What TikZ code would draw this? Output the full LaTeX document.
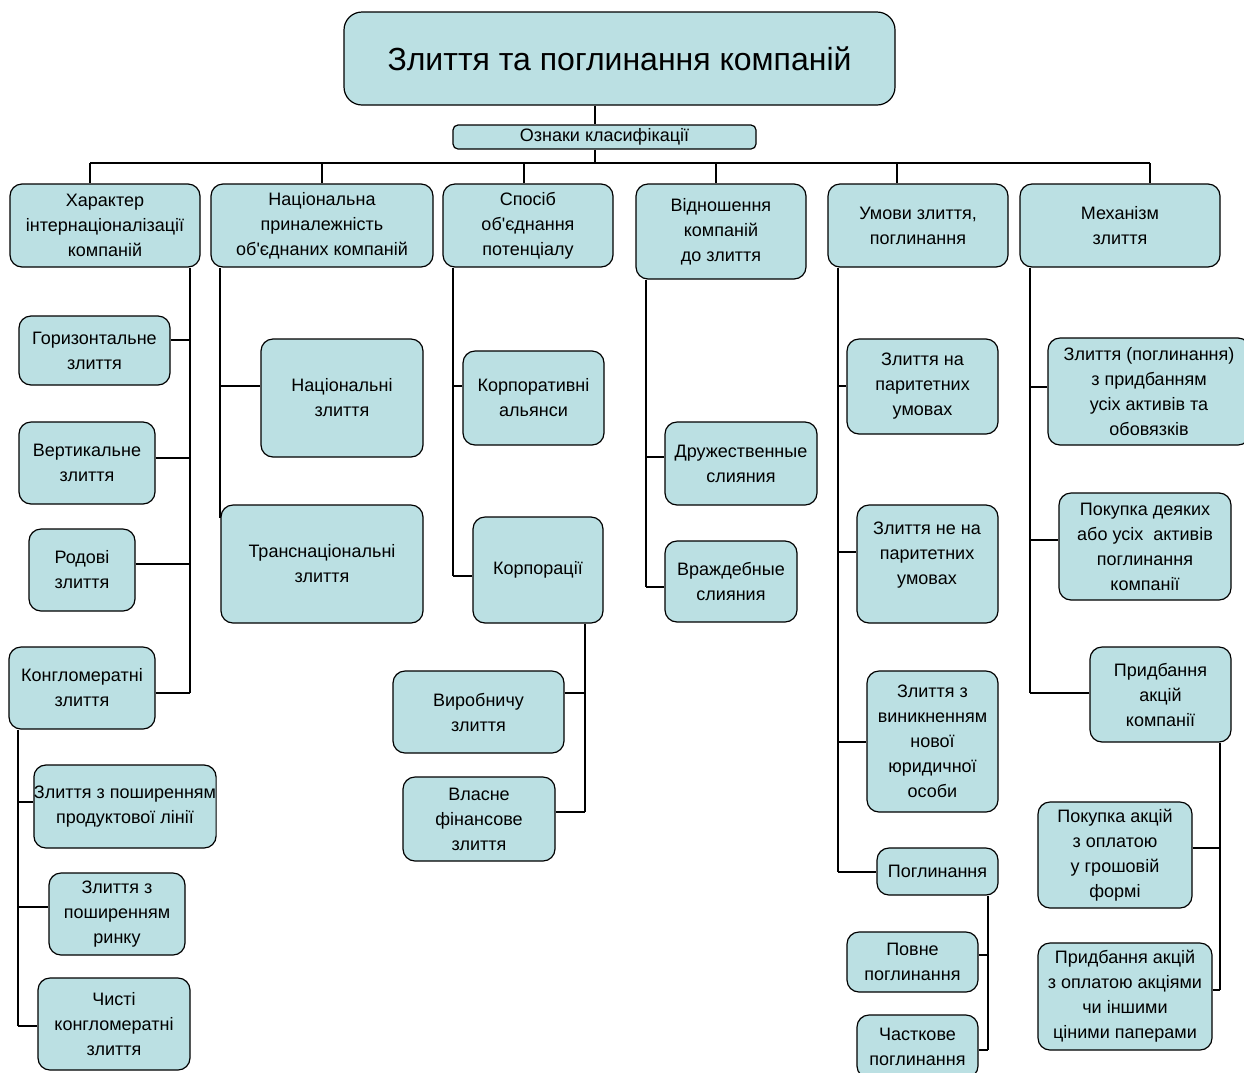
\documentclass[tikz,border=0pt]{standalone}
\usepackage{fontspec}
\setmainfont{Liberation Sans}[Ligatures=TeXOff]
\definecolor{boxfill}{RGB}{187,224,227}
\tikzset{
  boxtext/.style={align=center, font=\fontsize{18}{25}\selectfont},
  box/.style={boxtext, draw=black, fill=boxfill, rounded corners=12pt, line width=1.2pt,
    inner sep=0pt},
  link/.style={draw=black, line width=1.2pt},
}
% \rbox[options]{name}{x1}{y1}{x2}{y2}{text}: rounded box given by its corners
\newcommand\rbox[6][]{\node[box,minimum width={(#5-#3)*1pt},minimum height={(#6-#4)*1pt},#1] (#2) at ({(#3+#5)/2},{(#4+#6)/2})}
\begin{document}
\begin{tikzpicture}[x=1pt,y=-1pt]
\useasboundingbox (0,0) rectangle (1244,1072);
\fill[white] (0,0) rectangle (1244,1072);

% root and classification bar
\rbox[rounded corners=18pt,font=\fontsize{32}{38}\selectfont]{root}{344}{12}{895}{105}{Злиття та поглинання компаній};
\rbox[rounded corners=5pt]{sign}{453}{125}{756}{149}{Ознаки класифікації};

% classification categories
\rbox{b1}{10}{184}{200}{267}{Характер\\інтернаціоналізації\\компаній};
\rbox{b2}{211}{184}{433}{267}{Національна\\приналежність\\об'єднаних компаній};
\rbox{b3}{443}{184}{613}{267}{Спосіб\\об'єднання\\потенціалу};
\rbox{b4}{636}{184}{806}{279}{Відношення\\компаній\\до злиття};
\rbox{b5}{828}{184}{1008}{267}{Умови злиття,\\поглинання};
\rbox{b6}{1020}{184}{1220}{267}{Механізм\\злиття};

% bar and drops
\coordinate (barL) at (90,163);
\coordinate (barR) at (1150,163);
\draw[link] (root.south -| 595,0) -- (sign.north -| 595,0);
\draw[link] (sign.south -| 595,0) -- (595,163);
\draw[link] (barL) -- (barR);
\draw[link] (barL) -- (b1.north -| barL);
\draw[link] (322,163) -- (b2.north -| 322,0);
\draw[link] (524,163) -- (b3.north -| 524,0);
\draw[link] (716,163) -- (b4.north -| 716,0);
\draw[link] (897,163) -- (b5.north -| 897,0);
\draw[link] (barR) -- (b6.north -| barR);

% --- internationalisation
\rbox{h1}{19}{316}{170}{385}{Горизонтальне\\злиття};
\rbox{h2}{19}{422}{155}{504}{Вертикальне\\злиття};
\rbox{h3}{29}{529}{135}{611}{Родові\\злиття};
\rbox{h4}{9}{647}{155}{729}{Конгломератні\\злиття};
\rbox{k1}{38}{765}{212}{848}{Злиття з поширенням\\продуктової лінії};
\rbox{k2}{49}{873}{185}{955}{Злиття з\\поширенням\\ринку};
\rbox{k3}{38}{978}{190}{1070}{Чисті\\конгломератні\\злиття};
\coordinate (j1a) at (190,340);
\coordinate (j1b) at (190,458);
\coordinate (j1c) at (190,564);
\coordinate (j1d) at (190,693);
\draw[link] (b1.south -| j1a) -- (j1d);
\draw[link] (h1.east |- j1a) -- (j1a);
\draw[link] (h2.east |- j1b) -- (j1b);
\draw[link] (h3.east |- j1c) -- (j1c);
\draw[link] (h4.east |- j1d) -- (j1d);
\coordinate (ka) at (18,802);
\coordinate (kb) at (18,907);
\coordinate (kc) at (18,1026);
\draw[link] (h4.south -| ka) -- (kc);
\draw[link] (ka) -- (k1.west |- ka);
\draw[link] (kb) -- (k2.west |- kb);
\draw[link] (kc) -- (k3.west |- kc);

% --- nationality
\rbox{n1}{261}{339}{423}{457}{Національні\\злиття};
\rbox{n2}{221}{505}{423}{623}{Транснаціональні\\злиття};
\coordinate (j2a) at (220,386);
\coordinate (j2b) at (220,518);
\draw[link] (b2.south -| j2a) -- (j2b);
\draw[link] (j2a) -- (n1.west |- j2a);

% --- potential pooling
\rbox{p1}{463}{351}{604}{445}{Корпоративні\\альянси};
\rbox{p2}{473}{517}{603}{623}{Корпорації};
\rbox{p3}{393}{671}{564}{753}{Виробничу\\злиття};
\rbox{p4}{403}{777}{555}{861}{Власне\\фінансове\\злиття};
\coordinate (j3a) at (453,386);
\coordinate (j3b) at (453,576);
\draw[link] (b3.south -| j3a) -- (j3b);
\draw[link] (j3a) -- (p1.west |- j3a);
\draw[link] (j3b) -- (p2.west |- j3b);
\coordinate (j3c) at (585,693);
\coordinate (j3d) at (585,812);
\draw[link] (p2.south -| j3c) -- (j3d);
\draw[link] (p3.east |- j3c) -- (j3c);
\draw[link] (p4.east |- j3d) -- (j3d);

% --- attitude to the merger
\rbox{r1}{665}{422}{817}{505}{Дружественные\\слияния};
\rbox{r2}{665}{541}{797}{622}{Враждебные\\слияния};
\coordinate (j4a) at (646,457);
\coordinate (j4b) at (646,587);
\draw[link] (b4.south -| j4a) -- (j4b);
\draw[link] (j4a) -- (r1.west |- j4a);
\draw[link] (j4b) -- (r2.west |- j4b);

% --- terms of merger
\rbox{u1}{847}{339}{998}{434}{Злиття на\\паритетних\\умовах};
\rbox{u2}{857}{505}{998}{623}{};
\node[boxtext] (u2text) at (927,555) {Злиття не на\\паритетних\\умовах};
\rbox{u3}{867}{671}{998}{812}{Злиття з\\виникненням\\нової\\юридичної\\особи};
\rbox{u4}{877}{848}{998}{895}{Поглинання};
\rbox{u5}{847}{932}{978}{992}{Повне\\поглинання};
\rbox{u6}{857}{1015}{978}{1078}{Часткове\\поглинання};
\coordinate (j5a) at (838,386);
\coordinate (j5b) at (838,552);
\coordinate (j5c) at (838,742);
\coordinate (j5d) at (838,872);
\draw[link] (b5.south -| j5a) -- (j5d);
\draw[link] (j5a) -- (u1.west |- j5a);
\draw[link] (j5b) -- (u2.west |- j5b);
\draw[link] (j5c) -- (u3.west |- j5c);
\draw[link] (j5d) -- (u4.west |- j5d);
\coordinate (j5e) at (988,955);
\coordinate (j5f) at (988,1050);
\draw[link] (u4.south -| j5e) -- (j5f);
\draw[link] (u5.east |- j5e) -- (j5e);
\draw[link] (u6.east |- j5f) -- (j5f);

% --- mechanism
\rbox{m1}{1048}{338}{1250}{445}{Злиття (поглинання)\\з придбанням\\усіх активів та\\обовязків};
\rbox{m2}{1059}{493}{1231}{600}{Покупка деяких\\або усіх\ \ активів\\поглинання\\компанії};
\rbox{m3}{1090}{647}{1231}{742}{Придбання\\акцій\\компанії};
\rbox{m4}{1038}{802}{1192}{908}{Покупка акцій\\з оплатою\\у грошовій\\формі};
\rbox{m5}{1038}{943}{1212}{1050}{Придбання акцій\\з оплатою акціями\\чи іншими\\ціними паперами};
\coordinate (j6a) at (1030,387);
\coordinate (j6b) at (1030,540);
\coordinate (j6c) at (1030,693);
\draw[link] (b6.south -| j6a) -- (j6c);
\draw[link] (j6a) -- (m1.west |- j6a);
\draw[link] (j6b) -- (m2.west |- j6b);
\draw[link] (j6c) -- (m3.west |- j6c);
\coordinate (j6d) at (1220,848);
\coordinate (j6e) at (1220,990);
\draw[link] (m3.south -| j6d) -- (j6e);
\draw[link] (m4.east |- j6d) -- (j6d);
\draw[link] (m5.east |- j6e) -- (j6e);
\end{tikzpicture}
\end{document}
